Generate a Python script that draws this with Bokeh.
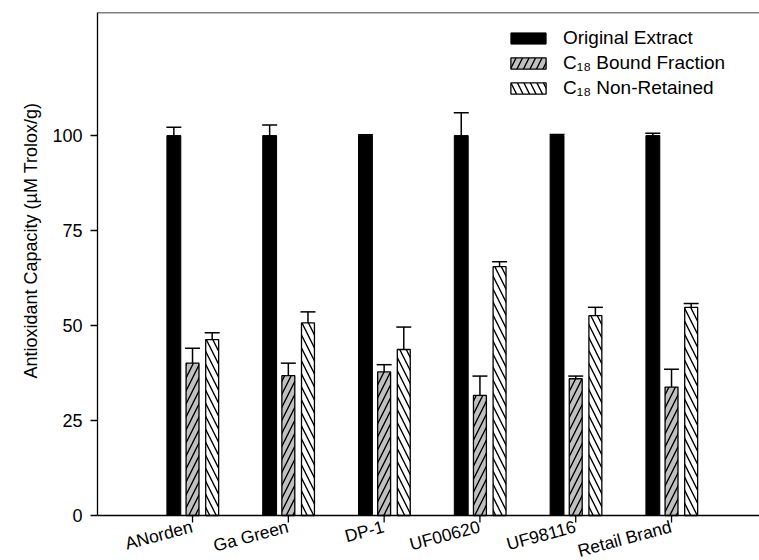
import math
from bokeh.plotting import figure
from bokeh.models import (ColumnDataSource, FixedTicker, Whisker, TeeHead,
                          Range1d, Legend, LegendItem, Span, Title)
from bokeh.core.properties import value
from bokeh.embed import file_html
from bokeh.resources import INLINE

categories = ["ANorden", "Ga Green", "DP-1", "UF00620", "UF98116", "Retail Brand"]
original = [100, 100, 100, 100, 100, 100]
original_err = [2.2, 2.8, 0.2, 6.0, 0.3, 0.6]
bound = [40.1, 36.8, 37.8, 31.6, 36.0, 33.8]
bound_err = [3.9, 3.3, 1.9, 5.1, 0.7, 4.7]
nonret = [46.3, 50.7, 43.7, 65.5, 52.6, 54.8]
nonret_err = [1.8, 2.9, 5.9, 1.3, 2.2, 1.0]
y_ticks = [0, 25, 50, 75, 100]

FONT = "Liberation Sans"
FS = "18px"
W, H = 759, 560
idx = list(range(len(categories)))
X0 = -0.992
X1 = X0 + (W - 97) / 95.8
Y1 = 132.4
Y0 = -(H - 515) / 3.8
TICK = 7 / 3.8  # tick length in data units

p = figure(width=W, height=H, output_backend="svg", toolbar_location=None,
           x_range=Range1d(X0, X1), y_range=Range1d(Y0, Y1),
           min_border_left=97, min_border_right=0, min_border_top=12, min_border_bottom=0)
p.outline_line_color = None
p.xgrid.visible = False
p.ygrid.visible = False
p.xaxis.visible = False

def src(vals, errs, off):
    return ColumnDataSource(dict(
        x=[i + off for i in idx], top=vals,
        upper=[v + e for v, e in zip(vals, errs)]))

s_orig = src(original, original_err, -0.195)
s_bound = src(bound, bound_err, 0.0)
s_non = src(nonret, nonret_err, 0.205)

r1 = p.vbar(x="x", top="top", bottom=0, width=0.145, source=s_orig, fill_color="black",
            line_color="black", line_width=1)
r2 = p.vbar(x="x", top="top", bottom=0, width=0.135, source=s_bound, fill_color="#c0c0c0",
            line_color="black", line_width=1.3, hatch_pattern="/",
            hatch_color="black", hatch_weight=1.4, hatch_scale=13)
r3 = p.vbar(x="x", top="top", bottom=0, width=0.135, source=s_non, fill_color="white",
            line_color="black", line_width=1.3, hatch_pattern="\\",
            hatch_color="black", hatch_weight=1.4, hatch_scale=13)

for s in (s_orig, s_bound, s_non):
    p.add_layout(Whisker(base="x", upper="upper", lower="top", source=s,
                         line_color="black", line_width=1.5,
                         upper_head=TeeHead(size=15, line_color="black", line_width=1.5),
                         lower_head=None))

# x axis line at value 0 and top frame line, inside the frame
p.add_layout(Span(location=0, dimension="width", line_color="black", line_width=1.3))
p.add_layout(Span(location=Y1, dimension="width", line_color="black", line_width=1.3))
cat_src = ColumnDataSource(dict(x=idx, y=[0] * len(idx),
                                y1=[-TICK] * len(idx), t=categories))
p.segment(x0="x", y0="y", x1="x", y1="y1", source=cat_src, line_color="black", line_width=1.3)
p.text(x="x", y="y", text="t", source=cat_src, angle=math.radians(15),
       text_align="right", text_baseline="top", x_offset=-3, y_offset=1,
       text_font=value(FONT), text_font_size=value("17.5px"), text_color="black")

ya = p.yaxis[0]
ya.bounds = (0, Y1)
ya.ticker = FixedTicker(ticks=y_ticks)
ya.major_label_text_font = FONT
ya.major_label_text_font_size = FS
ya.major_label_text_color = "black"
ya.major_label_standoff = 8
ya.minor_tick_line_color = None
ya.major_tick_out = 7
ya.major_tick_in = 0
ya.axis_line_width = 1.3
ya.major_tick_line_width = 1.3

p.add_layout(Title(text="Antioxidant Capacity (µM Trolox/g)", align="left", offset=H - 378,
                   text_font=FONT, text_font_size=FS, text_font_style="normal",
                   text_color="black", standoff=17), "left")

legend = Legend(items=[
    LegendItem(label="Original Extract", renderers=[r1]),
    LegendItem(label="C₁₈ Bound Fraction", renderers=[r2]),
    LegendItem(label="C₁₈ Non-Retained", renderers=[r3]),
], location=(409, 461), border_line_color=None, background_fill_alpha=0,
    label_text_font=FONT, label_text_font_size="19px", label_text_color="black",
    glyph_width=44, glyph_height=14, label_standoff=13, spacing=3, padding=0, margin=0,
    label_height=20)
p.add_layout(legend, "center")

open("out.html", "w").write(file_html(p, INLINE))
